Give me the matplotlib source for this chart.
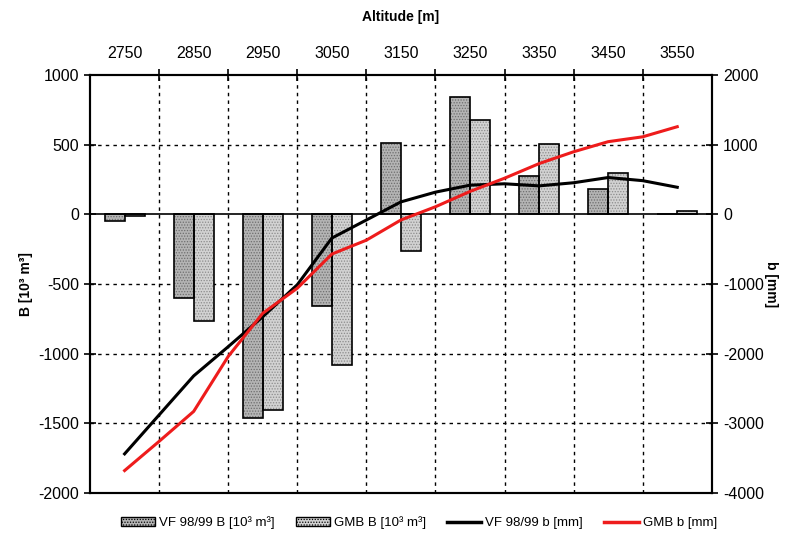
#!/usr/bin/env python3
"""Mass balance per altitude band: volumes (bars) and specific balance (lines)."""

import matplotlib
matplotlib.use("Agg")
import matplotlib.pyplot as plt
from matplotlib.patches import Patch
from matplotlib.lines import Line2D
import numpy as np

plt.rcParams["font.family"] = ["Liberation Sans", "DejaVu Sans"]
plt.rcParams["hatch.linewidth"] = 0.6
plt.rcParams["axes.unicode_minus"] = False

# altitude bands (category axis)
bands = ["2750", "2850", "2950", "3050", "3150", "3250", "3350", "3450", "3550"]
# volume balance B [10^3 m^3]
vf_B = [-50, -600, -1460, -655, 515, 840, 275, 185, 4]
gmb_B = [-8, -765, -1405, -1085, -265, 675, 505, 300, 22]

# specific balance b [mm], read every 50 m
line_alt = [2750, 2800, 2850, 2900, 2950, 3000, 3050, 3100, 3150,
            3200, 3250, 3300, 3350, 3400, 3450, 3500, 3550]
vf_b = [-3440, -2880, -2320, -1900, -1470, -1010, -340, -80, 180,
        320, 420, 440, 410, 455, 530, 485, 390]
gmb_b = [-3680, -3260, -2830, -2040, -1420, -1060, -570, -370, -80,
         110, 330, 520, 730, 900, 1045, 1115, 1260]

fig = plt.figure(figsize=(7.9, 5.41), dpi=100)
ax = fig.add_axes([0.114, 0.089, 0.787, 0.772])
ax2 = ax.twinx()

x = np.arange(len(bands))
w = 0.29
vf_face = "#b4b4b4"
gmb_face = "#d2d2d2"
for off, vals, face, hc in [(-w / 2, vf_B, vf_face, "#6e6e6e"),
                            (w / 2, gmb_B, gmb_face, "#8c8c8c")]:
    ax.bar(x + off, vals, w, color=face, hatch="......", edgecolor=hc,
           linewidth=0, zorder=2)
    ax.bar(x + off, vals, w, fill=False, edgecolor="black",
           linewidth=1.2, zorder=3)

# grid
for yv in [500, -500, -1000, -1500]:
    ax.axhline(yv, color="black", lw=1, ls=(0, (2.5, 3)), zorder=1)
for xv in np.arange(0.5, len(bands) - 0.5, 1):
    ax.axvline(xv, color="black", lw=1, ls=(0, (2.5, 3)), zorder=1)
ax.axhline(0, color="black", lw=1.2, zorder=4)

ax.set_xlim(-0.5, len(bands) - 0.5)
ax.set_ylim(-2000, 1000)
ax.set_yticks(np.arange(-2000, 1001, 500))

ax.xaxis.tick_top()
ax.set_xticks(x)
ax.set_xticklabels(bands)
ax.set_xticks(np.arange(0.5, len(bands) - 0.5, 1), minor=True)
ax.tick_params(axis="x", which="major", length=0, pad=10, labelsize=11.5)
ax.tick_params(axis="x", which="minor", direction="inout", length=8, width=1.2)
ax.tick_params(axis="y", direction="inout", length=9, width=1.2, labelsize=11.5)
ax.xaxis.set_label_position("top")
ax.set_xlabel("Altitude [m]", fontweight="bold", fontsize=10, labelpad=18)
ax.set_ylabel("B [10³ m³]", fontweight="bold", fontsize=10, labelpad=4)

lx = (np.array(line_alt) - 2750) / 100.0
ax2.plot(lx, vf_b, color="black", lw=2.2, zorder=5)
ax2.plot(lx, gmb_b, color="#ee1c1c", lw=2.2, zorder=5)
ax2.set_ylim(-4000, 2000)
ax2.set_yticks(np.arange(-4000, 2001, 1000))
ax2.tick_params(axis="y", direction="inout", length=9, width=1.2, labelsize=11.5)
ax2.set_ylabel("b [mm]", fontweight="bold", fontsize=10, rotation=270, labelpad=10)

for a in (ax, ax2):
    for s in a.spines.values():
        s.set_linewidth(1.5)

handles = [
    Patch(facecolor=vf_face, edgecolor="black", hatch="......"),
    Patch(facecolor=gmb_face, edgecolor="black", hatch="......"),
    Line2D([], [], color="black", lw=2.5),
    Line2D([], [], color="#ee1c1c", lw=2.5),
]
labels = ["VF 98/99 B [10³ m³]", "GMB B [10³ m³]", "VF 98/99 b [mm]", "GMB b [mm]"]
fig.legend(handles, labels, loc="lower center", bbox_to_anchor=(0.53, 0.0),
           ncol=4, frameon=False, fontsize=9.5, handlelength=2.6,
           handletextpad=0.3, columnspacing=1.6)

fig.savefig("out.png", dpi=100)
